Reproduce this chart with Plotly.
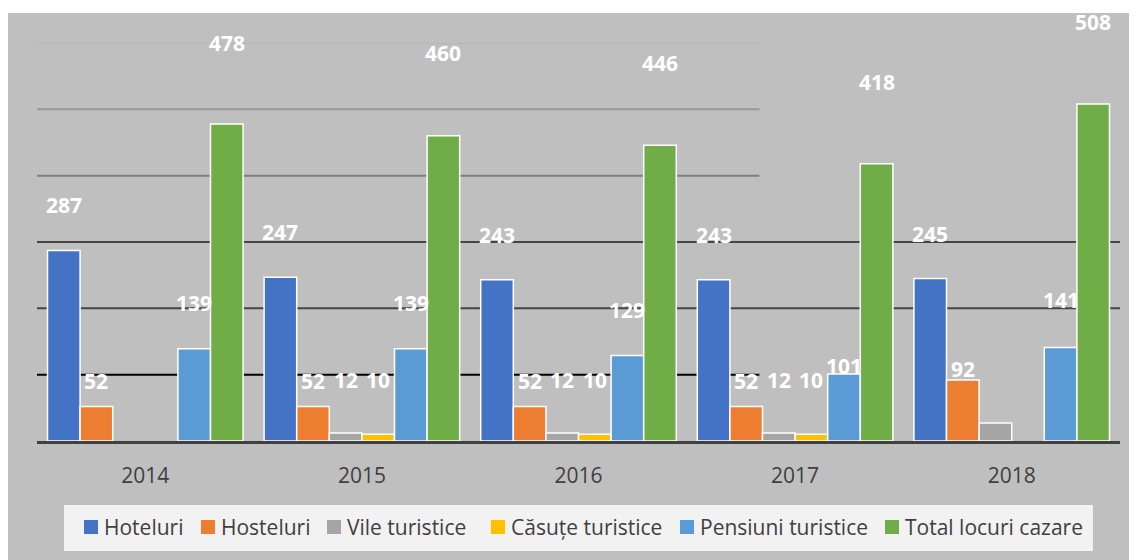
import plotly.graph_objects as go

years = ["2014", "2015", "2016", "2017", "2018"]
series_names = ["Hoteluri", "Hosteluri", "Vile turistice", "Căsuțe turistice",
                "Pensiuni turistice", "Total locuri cazare"]
hoteluri = [287, 247, 243, 243, 245]
hosteluri = [52, 52, 52, 52, 92]
vile = [None, 12, 12, 12, 27]
casute = [None, 10, 10, 10, None]
pensiuni = [139, 139, 129, 101, 141]
total = [478, 460, 446, 418, 508]
values = [hoteluri, hosteluri, vile, casute, pensiuni, total]

# labels shown in the reference (2018 Vile turistice has no label)
show_label = [
    [True] * 5,
    [True] * 5,
    [False, True, True, True, False],
    [False, True, True, True, False],
    [True] * 5,
    [True] * 5,
]

colors = ["#4472c4", "#ed7d31", "#a5a5a5", "#ffc000", "#5b9bd5", "#70ad47"]
# label offset above bar top (pixels) - styling
label_dy = [
    [46, 45, 45, 45, 44],
    [26, 26, 26, 26, 11],
    [0, 53, 53, 53, 0],
    [0, 54, 54, 54, 0],
    [46, 46, 45, 8, 47],
    [81, 83, 82, 82, 82],
]
# legend swatch left edges (page pixels) - styling
legend_px = [84, 201, 327, 491, 680, 885]

BARGAP = 0.097
n = len(series_names)
group_w = 1 - BARGAP
bar_w = group_w / n

fig = go.Figure()
for j, name in enumerate(series_names):
    fig.add_trace(go.Bar(
        x=years, y=values[j], name=name,
        marker=dict(color=colors[j], line=dict(color="white", width=1.5)),
    ))

annotations = []
for j in range(n):
    for i, v in enumerate(values[j]):
        if v is None or not show_label[j][i]:
            continue
        xpos = i - group_w / 2 + (j + 0.5) * bar_w
        annotations.append(dict(
            x=xpos, y=v, xref="x", yref="y", text=str(v), showarrow=False,
            yanchor="middle", xanchor="center", yshift=label_dy[j][i],
            font=dict(family="Open Sans", size=21, color="white", weight="bold"),
        ))

# page has an 8px body margin; figure placed at (8, 8)
OFF = 8
W, H = 1137 - OFF, 560 - OFF
L, R, T, B = 37 - OFF, 17, 43 - OFF, 119
pw, ph = W - L - R, H - T - B


def px_x(p):
    return (p - OFF - L) / pw


def px_y(p):
    return (H - B - (p - OFF)) / ph


shapes = [dict(type="rect", xref="paper", yref="paper",
               x0=px_x(7), x1=px_x(1145), y0=px_y(570), y1=px_y(13),
               fillcolor="#bfbfbf", line=dict(width=0), layer="below")]
grid = [(600, "#b7b7b7", 0.667), (500, "#999999", 0.667), (400, "#7f7f7f", 0.667),
        (300, "#454545", 1.0), (200, "#454545", 1.0), (100, "#000000", 0.667)]
for gv, gc, gx in grid:
    shapes.append(dict(type="line", xref="paper", yref="y", x0=0, x1=gx,
                       y0=gv, y1=gv, line=dict(color=gc, width=2), layer="below"))

# legend box
shapes.append(dict(type="rect", xref="paper", yref="paper",
                   x0=px_x(64), x1=px_x(1093), y0=px_y(551), y1=px_y(505),
                   fillcolor="#f2f2f2", line=dict(width=0), layer="below"))
for j, name in enumerate(series_names):
    sx = legend_px[j]
    shapes.append(dict(type="rect", xref="paper", yref="paper",
                       x0=px_x(sx), x1=px_x(sx + 14), y0=px_y(534), y1=px_y(520),
                       fillcolor=colors[j], line=dict(width=0), layer="above"))
    annotations.append(dict(
        x=px_x(sx + 18), y=px_y(527), xref="paper", yref="paper", text=name,
        showarrow=False, xanchor="left", yanchor="middle",
        font=dict(family="Open Sans", size=21, color="#404040"),
    ))

fig.update_layout(
    width=W, height=H,
    margin=dict(l=L, r=R, t=T, b=B, pad=0),
    paper_bgcolor="white",
    plot_bgcolor="rgba(0,0,0,0)",
    barmode="group", bargap=BARGAP, bargroupgap=0,
    font=dict(family="Open Sans", color="#404040"),
    xaxis=dict(showline=True, linecolor="#404040", linewidth=3,
               ticks="outside", ticklen=14, tickcolor="rgba(0,0,0,0)",
               tickfont=dict(size=21, color="#404040"), showgrid=False,
               zeroline=False, fixedrange=True),
    yaxis=dict(range=[0, 600], visible=False, showgrid=False, zeroline=False),
    showlegend=False,
    shapes=shapes,
    annotations=annotations,
)

fig.write_html("out.html")
